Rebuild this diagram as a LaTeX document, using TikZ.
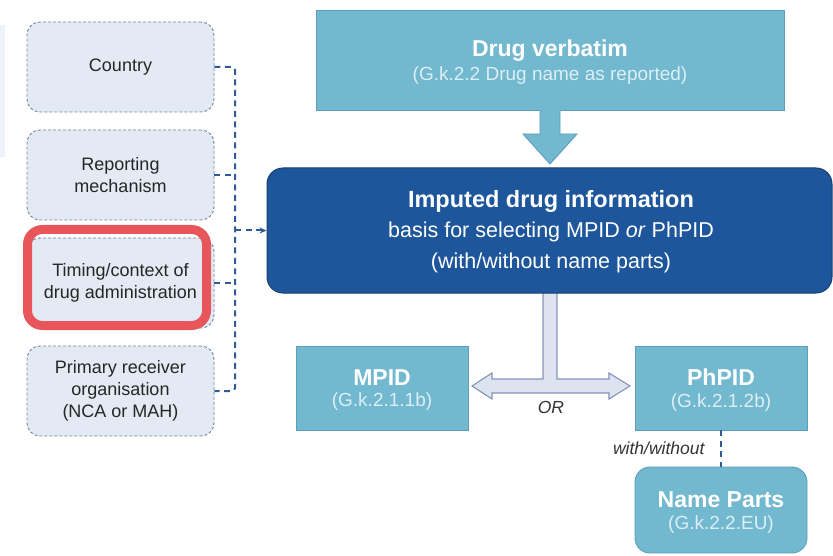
\documentclass[tikz,border=0pt]{standalone}
\usepackage{fontspec}
\setmainfont{Liberation Sans}
\usetikzlibrary{arrows.meta}

\definecolor{leftfill}{HTML}{E3EAF3}
\definecolor{leftline}{HTML}{74839F}
\definecolor{leftink}{HTML}{262626}
\definecolor{linkblue}{HTML}{2F5C98}
\definecolor{boxteal}{HTML}{72B8CE}
\definecolor{tealline}{HTML}{5E9DBE}
\definecolor{tealsub}{HTML}{DCEFF6}
\definecolor{mainfill}{HTML}{1E569B}
\definecolor{mainline}{HTML}{173F70}
\definecolor{tfill}{HTML}{DDE4F0}
\definecolor{tline}{HTML}{8493BB}
\definecolor{hilite}{HTML}{E8565B}
\definecolor{faint}{HTML}{EEF2F9}
\definecolor{labelink}{HTML}{333333}

\tikzset{
  leftbox/.style={draw=leftline, densely dashed, line width=0.9pt, fill=leftfill,
    rounded corners=13pt, minimum width=187pt, minimum height=90pt,
    align=center, text=leftink, font=\fontsize{18}{22}\selectfont},
  tealbox/.style={draw=tealline, line width=0.9pt, fill=boxteal},
  mainbox/.style={draw=mainline, line width=1pt, fill=mainfill, rounded corners=16pt},
  boxtitle/.style={text=white, font=\fontsize{23}{27}\selectfont\bfseries},
  boxsub/.style={text=tealsub, font=\fontsize{19}{23}\selectfont},
  maintitle/.style={text=white, font=\fontsize{23.5}{28}\selectfont\bfseries},
  mainline2/.style={text=white, font=\fontsize{21.5}{26}\selectfont},
  link/.style={draw=linkblue, line width=2pt, dash pattern=on 6pt off 4.5pt},
  smalllabel/.style={text=labelink, font=\fontsize{17.5}{21}\selectfont\itshape},
}

\begin{document}
\begin{tikzpicture}[x=1pt,y=-1pt]
\useasboundingbox (0,0) rectangle (833,556);

% faint panel at the left edge
\fill[faint] (-2,25) rectangle (5,157);

% context boxes on the left
\node[leftbox] (country) at (120.5,67) {Country};
\node[leftbox] (report)  at (120.5,175) {Reporting\\mechanism};
\node[leftbox] (timing)  at (120.5,283) {Timing/context of\\drug administration};
\node[leftbox] (primary) at (120.5,391) {Primary receiver\\organisation\\(NCA or MAH)};

% highlight around the timing box
\node[draw=hilite, line width=9pt, rounded corners=15pt,
      minimum width=179pt, minimum height=96pt] (highlight) at (117,277.5) {};

% T-shaped double arrow below the main box
\filldraw[fill=tfill, draw=tline, line width=1.1pt, line join=miter]
  (543,290) -- (543,379) -- (492,379) -- (492,373) -- (472,386) -- (492,399)
  -- (492,393) -- (609,393) -- (609,399) -- (630,386) -- (609,373) -- (609,379)
  -- (557,379) -- (557,290);

% drug verbatim box and block arrow
\node[tealbox, minimum width=468pt, minimum height=100pt] (verbatim) at (550,60) {};
\fill[boxteal] (540,109) -- (540,134) -- (523,134) -- (550,164) -- (577,134) -- (560,134) -- (560,109) -- cycle;
\draw[tealline, line width=0.9pt, line join=miter]
  (540,110.5) -- (540,134) -- (523,134) -- (550,164) -- (577,134) -- (560,134) -- (560,110.5);
\node[boxtitle] (verbtitle) at (550,51) {Drug verbatim};
\node[boxsub] (verbsub) at (550,76) {(G.k.2.2 Drug name as reported)};

% main box
\node[mainbox, minimum width=565pt, minimum height=125pt] (main) at (549.5,230.5) {};
\node[maintitle] (maint1) at (551,201) {Imputed drug information};
\node[mainline2] (maint2) at (551,232) {basis for selecting MPID \textit{or} PhPID};
\node[mainline2] (maint3) at (551,263) {(with/without name parts)};

% product identifier boxes
\node[tealbox, minimum width=172pt, minimum height=84pt] (mpid) at (382,388) {};
\node[boxtitle] (mpidt) at (382,378) {MPID};
\node[boxsub] (mpids) at (382,402) {(G.k.2.1.1b)};

\node[tealbox, minimum width=172pt, minimum height=84pt] (phpid) at (721,388) {};
\node[boxtitle] (phpidt) at (721,377) {PhPID};
\node[boxsub] (phpids) at (721,403) {(G.k.2.1.2b)};

\node[tealbox, rounded corners=15pt, minimum width=172pt, minimum height=86pt] (names) at (721,510) {};
\node[boxtitle] (namest) at (721,500) {Name Parts};
\node[boxsub] (namess) at (721,525) {(G.k.2.2.EU)};

\node[smalllabel] (ortxt) at (551,407) {OR};
\node[smalllabel, anchor=east] (withtxt) at (708,448) {with/without};

% dashed connectors
\coordinate (bustop) at (235,67);
\coordinate (busbot) at (235,391);
\coordinate (busmid) at (235,230.5);
\draw[link, rounded corners=3pt] (country.east) -- (bustop) -- (busbot) -- (primary.east);
\draw[link] (report.east) -- (report.east -| bustop);
\draw[link] (timing.east) -- (timing.east -| bustop);
\draw[link, -{Stealth[length=7pt,width=6pt]}] (busmid) -- (main.west);
\draw[link] (phpid.south) -- (names.north);
\end{tikzpicture}
\end{document}
